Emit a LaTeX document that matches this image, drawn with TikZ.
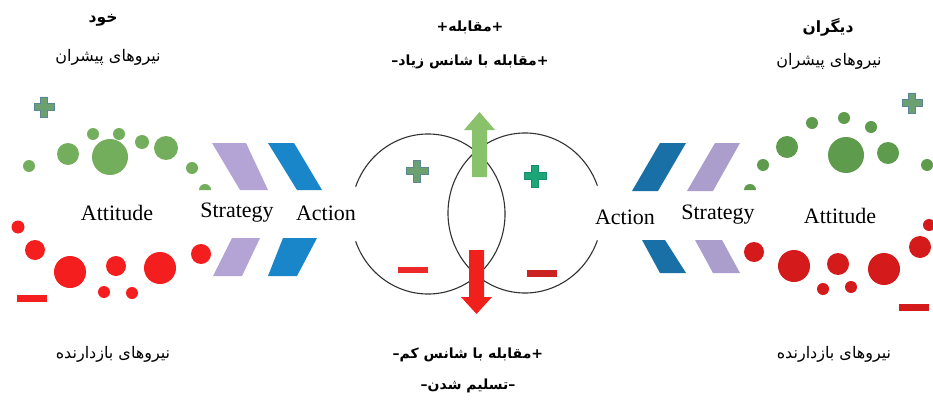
\documentclass[tikz,border=0pt]{standalone}
\usepackage{fontspec}
\setmainfont{Liberation Serif}
\newfontfamily\pfont[Script=Arabic]{DejaVu Sans}
\TeXXeTstate=1
\definecolor{gL}{RGB}{114,174,92}
\definecolor{gR}{RGB}{94,155,76}
\definecolor{rL}{RGB}{244,30,30}
\definecolor{rR}{RGB}{212,26,26}
\definecolor{purL}{RGB}{180,164,214}
\definecolor{purR}{RGB}{172,158,204}
\definecolor{blL}{RGB}{24,134,200}
\definecolor{blR}{RGB}{24,112,166}
\definecolor{arG}{RGB}{138,194,108}
\definecolor{arR}{RGB}{240,32,28}
\definecolor{ringc}{RGB}{50,50,50}
\definecolor{plA}{RGB}{108,160,112}
\definecolor{plAb}{RGB}{90,135,150}
\definecolor{plB}{RGB}{28,166,120}
\definecolor{plBb}{RGB}{24,140,110}
\definecolor{mnL}{RGB}{238,40,40}
\definecolor{mnR}{RGB}{204,34,34}
\newcommand{\plusmark}[5]{%
  \filldraw[fill=#4,draw=#5,line width=0.8pt,shift={(#1,#2)}]
   (-#3,-0.35*#3) -- (-0.35*#3,-0.35*#3) -- (-0.35*#3,-#3) -- (0.35*#3,-#3)
   -- (0.35*#3,-0.35*#3) -- (#3,-0.35*#3) -- (#3,0.35*#3) -- (0.35*#3,0.35*#3)
   -- (0.35*#3,#3) -- (-0.35*#3,#3) -- (-0.35*#3,0.35*#3) -- (-#3,0.35*#3) -- cycle;}
\begin{document}
\begin{tikzpicture}[x=1pt,y=-1pt,
  en/.style={font=\fontsize{22}{24}\selectfont, inner sep=0pt},
  fa/.style={font=\pfont\fontsize{16}{18}\selectfont, inner sep=0pt},
  fab/.style={font=\pfont\bfseries\fontsize{14}{16}\selectfont, inner sep=0pt},
  fabt/.style={font=\pfont\bfseries\fontsize{15.5}{17}\selectfont, inner sep=0pt},
  ring/.style={draw=ringc, line width=1.1pt}]
\fill[white] (0,0) rectangle (933,401);
\useasboundingbox (0,0) rectangle (933,401);

% ---------- left: dots ----------
\foreach \x/\y/\r in {29/166/6, 68/154/11, 93/134/6, 110/157/18, 119/134/6, 142/142/7, 166/148/12, 192/168/6}
  \fill[gL] (\x,\y) circle (\r pt);
\fill[gL] (199,190) arc[start angle=180, end angle=0, radius=6pt] -- cycle;
\foreach \x/\y/\r in {18/227/6.5, 35/250/10, 70/272/16, 116/266/10, 104/292/6, 132/293/6, 160/268/16, 201/254/10}
  \fill[rL] (\x,\y) circle (\r pt);
\fill[rL] (17,295) rectangle (47,302);
\plusmark{44}{107}{10}{plA}{plAb}

% ---------- right: dots ----------
\foreach \x/\y/\r in {763/165/6, 787/147/11, 812/123/6, 844/118/6, 871/127/6, 846/155/18, 888/153/11, 927/165/6}
  \fill[gR] (\x,\y) circle (\r pt);
\fill[gR] (744,190) arc[start angle=180, end angle=0, radius=6pt] -- cycle;
\foreach \x/\y/\r in {754/252/10, 794/266/16, 838/264/11, 823/289/6, 851/287/6, 884/269/16, 920/247/11, 929/225/6}
  \fill[rR] (\x,\y) circle (\r pt);
\fill[rR] (899,304) rectangle (929,311);
\plusmark{912}{103}{10}{plA}{plAb}

% ---------- chevrons ----------
\fill[purL] (212,143) -- (246,143) -- (268,190) -- (240,190) -- cycle;
\fill[blL]  (268,143) -- (294,143) -- (322,190) -- (297,190) -- cycle;
\fill[purL] (232,238) -- (260,238) -- (242,276) -- (213,276) -- cycle;
\fill[blL]  (283,238) -- (317,238) -- (297,276) -- (268,276) -- cycle;
\fill[blR]  (660,143) -- (686,143) -- (658,191) -- (632,191) -- cycle;
\fill[purR] (715,143) -- (740,143) -- (713,191) -- (687,191) -- cycle;
\fill[blR]  (642,240) -- (665,240) -- (686,273) -- (660,273) -- cycle;
\fill[purR] (695,240) -- (722,240) -- (740,273) -- (713,273) -- cycle;

% ---------- rings ----------
\draw[ring] (428,214) ++(200:77pt and 80pt) arc[start angle=200, end angle=520, x radius=77pt, y radius=80pt];
\draw[ring] (525,213) ++(20:77pt and 80pt) arc[start angle=20, end angle=340, x radius=77pt, y radius=80pt];

\plusmark{417}{171}{11}{plA}{plAb}
\plusmark{535}{176}{11}{plB}{plBb}
\fill[mnL] (398,267) rectangle (428,273);
\fill[mnR] (527,270) rectangle (557,277);

% ---------- arrows ----------
\fill[arG] (472,177) -- (472,130) -- (464,130) -- (479.5,112) -- (495,130) -- (487,130) -- (487,177) -- cycle;
\fill[arR] (469,250) -- (469,297) -- (461,297) -- (476.5,314) -- (492,297) -- (484,297) -- (484,250) -- cycle;

% ---------- english labels ----------
\node[en] (attL) at (117,213) {Attitude};
\node[en] (strL) at (237,213) {Strategy};
\node[en] (actL) at (326,213) {Action};
\node[en] (actR) at (625,217) {Action};
\node[en] (strR) at (718,215) {Strategy};
\node[en] (attR) at (840,216) {Attitude};

% ---------- persian labels ----------
\node[fabt] (selfT) at (103,20) {\beginR خود\endR};
\node[fa]  (selfP) at (108,57) {\beginR نیروهای پیشران\endR};
\node[fa]  (selfN) at (113,354) {\beginR نیروهای بازدارنده\endR};
\node[fabt] (othT) at (828,27) {\beginR دیگران\endR};
\node[fa]  (othP) at (829,61) {\beginR نیروهای پیشران\endR};
\node[fa]  (othN) at (834,354) {\beginR نیروهای بازدارنده\endR};
\node[fab] (top1) at (470,27) {\beginR +مقابله+\endR};
\node[fab] (top2) at (470,62) {\beginR +مقابله با شانس زیاد–\endR};
\node[fab] (bot1) at (468,355) {\beginR +مقابله با شانس کم–\endR};
\node[fab] (bot2) at (468,386) {\beginR –تسلیم شدن–\endR};
\end{tikzpicture}
\end{document}
